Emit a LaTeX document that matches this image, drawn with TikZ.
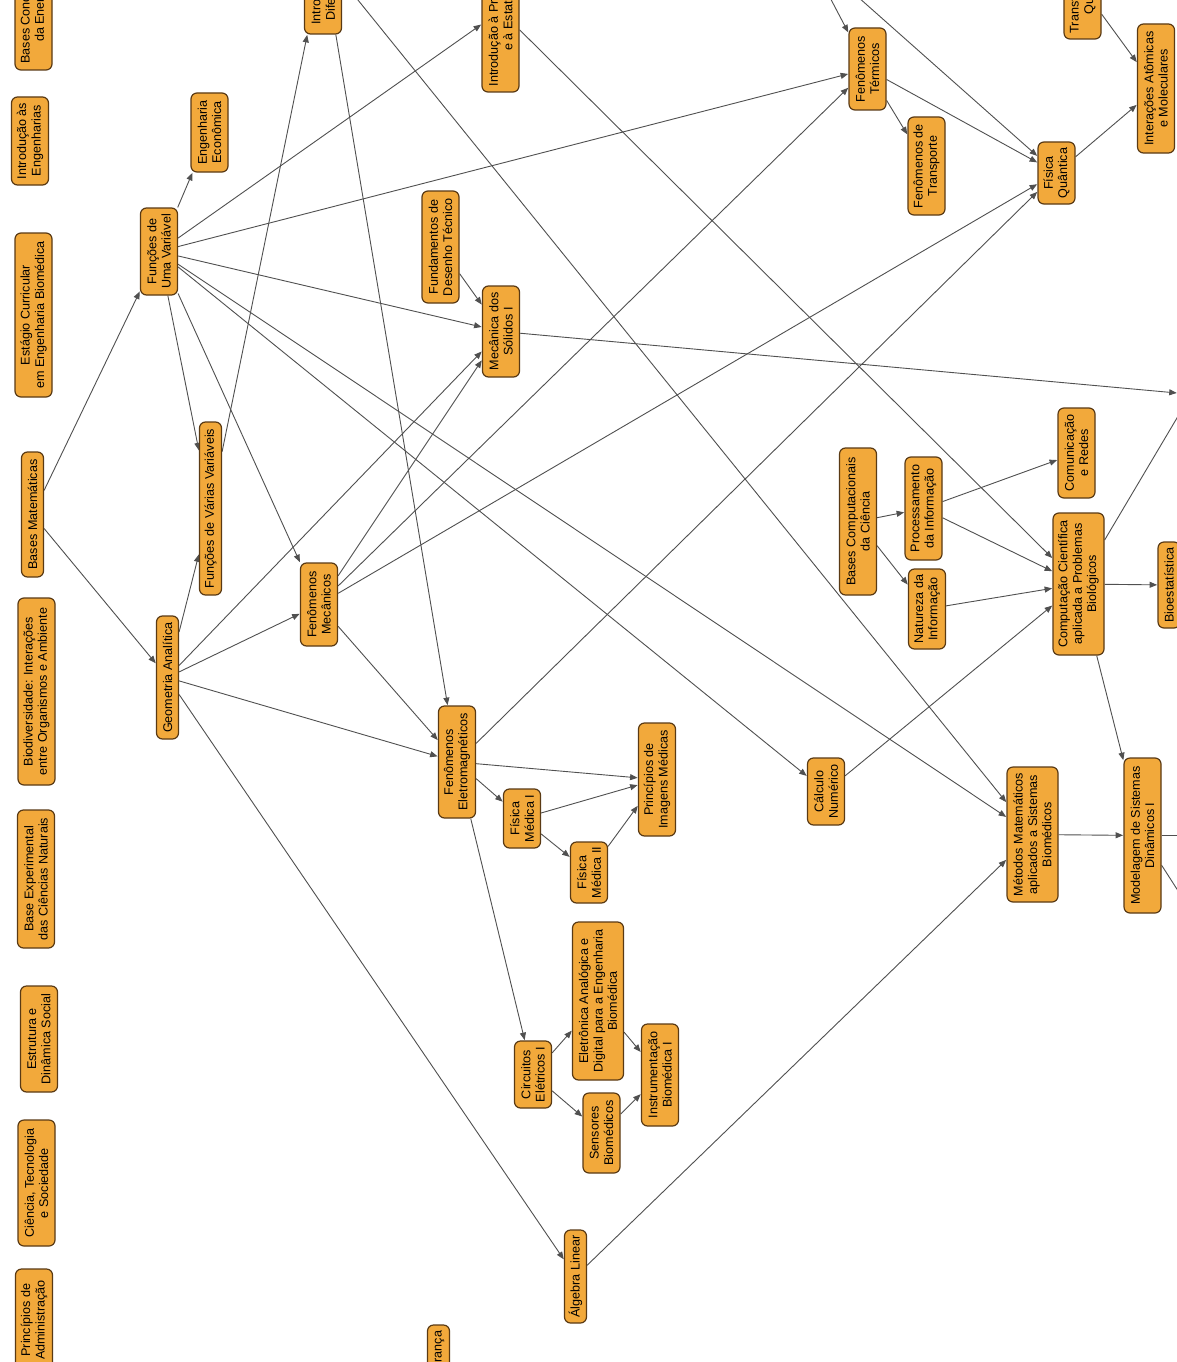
\documentclass[tikz,border=0pt]{standalone}
\usepackage{fontspec}
\setmainfont{Liberation Sans}
\usetikzlibrary{arrows.meta}
\definecolor{boxfill}{HTML}{F2A93B}
\definecolor{boxdraw}{HTML}{5A3A14}
\definecolor{edgec}{HTML}{505050}
\pgfdeclarelayer{bg}
\pgfsetlayers{bg,main}
\begin{document}
\begin{tikzpicture}[x=1pt,y=-1pt,
 course/.style={draw=boxdraw, line width=1.2pt, fill=boxfill, rounded corners=6pt, rotate=90, align=center, inner sep=2pt, font=\fontsize{12.6}{14.4}\selectfont, text=black},
 one/.style={course, minimum height=22pt},
 two/.style={course, minimum height=37pt},
 three/.style={course, minimum height=51pt},
 arr/.style={draw=edgec, line width=0.9pt, -{Triangle[length=7.5pt,width=6pt]}, shorten >=0.3pt}
]
\useasboundingbox (0,0) rectangle (1177,1362);
\clip (0,0) rectangle (1177,1362);
% left column
\node[two, minimum width=117pt] (BCE) at (33.5,11.5) {Bases Conceituais\\da Energia};
\node[two, minimum width=88pt] (IntroEng) at (30,141) {Introdução às\\Engenharias};
\node[two, minimum width=164pt] (Estagio) at (33.5,315) {Estágio Curricular\\em Engenharia Biomédica};
\node[one, minimum width=125pt] (BasesMat) at (32.5,514.5) {Bases Matemáticas};
\node[two, minimum width=187pt] (Biodiv) at (36.5,691.5) {Biodiversidade: Interações\\entre Organismos e Ambiente};
\node[two, minimum width=138pt] (BaseExp) at (36,879) {Base Experimental\\das Ciências Naturais};
\node[two, minimum width=106pt] (EstDin) at (39,1039) {Estrutura e\\Dinâmica Social};
\node[two, minimum width=126pt] (CTS) at (36.5,1183) {Ciência, Tecnologia\\e Sociedade};
\node[two, minimum width=102pt] (PrincAdm) at (34,1320) {Princípios de\\Administração};
% maths
\node[two, minimum width=79pt] (EngEcon) at (209.5,132.5) {Engenharia\\Econômica};
\node[two, minimum width=87pt] (FUV) at (159,251.5) {Funções de\\Uma Variável};
\node[one, minimum width=173pt] (FVV) at (210.5,508.5) {Funções de Várias Variáveis};
\node[one, minimum width=123pt] (GeoAn) at (167.5,677.5) {Geometria Analítica};
\node[two, minimum width=83pt] (FenMec) at (319,604.5) {Fenômenos\\Mecânicos};
\node[two, minimum width=154pt] (IntroEDO) at (323,-43) {Introdução às Equações\\Diferenciais Ordinárias};
\node[two, minimum width=162pt] (IntroProb) at (500.5,11) {Introdução à Probabilidade\\e à Estatística};
\node[two, minimum width=112pt] (FundDes) at (440.5,247) {Fundamentos de\\Desenho Técnico};
\node[two, minimum width=91pt] (MecSol) at (501,331.5) {Mecânica dos\\Sólidos I};
% physics top right
\node[two, minimum width=82pt] (FenTerm) at (867.5,69) {Fenômenos\\Térmicos};
\node[two, minimum width=98pt] (FenTransp) at (926.5,166) {Fenômenos de\\Transporte};
\node[two, minimum width=62pt] (FisQuant) at (1056.5,173) {Física\\Quântica};
\node[two, minimum width=129pt] (IntAtom) at (1156,88.5) {Interações Atômicas\\e Moleculares};
\node[two, minimum width=102pt] (TransfQ) at (1082.5,-12) {Transformações\\Químicas};
% computing
\node[two, minimum width=147pt] (BasesComp) at (858,521.5) {Bases Computacionais\\da Ciência};
\node[two, minimum width=103pt] (ProcInfo) at (923.5,508.5) {Processamento\\da Informação};
\node[two, minimum width=80pt] (NatInfo) at (927,609) {Natureza da\\Informação};
\node[two, minimum width=90pt] (ComRedes) at (1076.5,453) {Comunicação\\e Redes};
\node[three, minimum width=142pt] (CompCient) at (1078.5,584) {Computação Científica\\aplicada a Problemas\\Biológicos};
\node[one, minimum width=86pt] (Bioest) at (1169,585) {Bioestatística};
\node[two, minimum width=67pt] (CalcNum) at (826,791.5) {Cálculo\\Numérico};
\node[three, minimum width=135pt] (MetMat) at (1032.5,834.5) {Métodos Matemáticos\\aplicados a Sistemas\\Biomédicos};
\node[two, minimum width=155pt] (ModSis) at (1142.5,835.5) {Modelagem de Sistemas\\Dinâmicos I};
% electromagnetism branch
\node[two, minimum width=112pt] (FenEletro) at (457,762) {Fenômenos\\Eletromagnéticos};
\node[two, minimum width=59pt] (FisMed1) at (522,818.5) {Física\\Médica I};
\node[two, minimum width=61pt] (FisMed2) at (589,872.5) {Física\\Médica II};
\node[two, minimum width=113pt] (PrincImg) at (657,779.5) {Princípios de\\Imagens Médicas};
\node[two, minimum width=67pt] (CircEl) at (533,1074.5) {Circuitos\\Elétricos I};
\node[three, minimum width=158pt] (Eletron) at (598,1001) {Eletrônica Analógica e\\Digital para a Engenharia\\Biomédica};
\node[two, minimum width=80pt] (Sensores) at (601.5,1133) {Sensores\\Biomédicos};
\node[two, minimum width=102pt] (Instrum) at (660,1075) {Instrumentação\\Biomédica I};
\node[one, minimum width=93pt] (AlgLin) at (575.5,1276.5) {Álgebra Linear};
\node[one, minimum width=95pt] (Biosseg) at (438.5,1372.5) {Biossegurança};
% free ends beyond the picture
\coordinate (offTop) at (805,-50);
\coordinate (rMS) at (1177,393);
\coordinate (rCC) at (1190,396);
\coordinate (rMH) at (1200,835.5);
\coordinate (rMD) at (1200,925);
\begin{pgfonlayer}{bg}
\fill[white] (0,0) rectangle (1177,1362);
\draw[arr] (BasesMat) -- (FUV);
\draw[arr] (BasesMat) -- (GeoAn);
\draw[arr] (FUV) -- (EngEcon);
\draw[arr] (FUV) -- (IntroProb);
\draw[arr] (FUV) -- (FenTerm);
\draw[arr] (FUV) -- (MecSol);
\draw[arr] (FUV) -- (MetMat);
\draw[arr] (FUV) -- (CalcNum);
\draw[arr] (FUV) -- (FVV);
\draw[arr] (FUV) -- (FenMec);
\draw[arr] (GeoAn) -- (FVV);
\draw[arr] (GeoAn) -- (FenMec);
\draw[arr] (GeoAn) -- (MecSol);
\draw[arr] (GeoAn) -- (FenEletro);
\draw[arr] (GeoAn) -- (AlgLin);
\draw[arr] (FVV) -- (IntroEDO);
\draw[arr] (IntroEDO) -- (FenEletro);
\draw[arr] (IntroEDO) -- (MetMat);
\draw[arr] (FenMec) -- (MecSol);
\draw[arr] (FenMec) -- (FenTerm);
\draw[arr] (FenMec) -- (FisQuant);
\draw[arr] (FenMec) -- (FenEletro);
\draw[arr] (FundDes) -- (MecSol);
\draw[arr] (MecSol) -- (rMS);
\draw[arr] (IntroProb) -- (CompCient);
\draw[arr] (offTop) -- (FenTerm);
\draw[arr] (offTop) -- (FisQuant);
\draw[arr] (FenTerm) -- (FenTransp);
\draw[arr] (FenTerm) -- (FisQuant);
\draw[arr] (TransfQ) -- (IntAtom);
\draw[arr] (FisQuant) -- (IntAtom);
\draw[arr] (FenEletro) -- (FisQuant);
\draw[arr] (FenEletro) -- (PrincImg);
\draw[arr] (FenEletro) -- (FisMed1);
\draw[arr] (FenEletro) -- (CircEl);
\draw[arr] (FisMed1) -- (PrincImg);
\draw[arr] (FisMed1) -- (FisMed2);
\draw[arr] (FisMed2) -- (PrincImg);
\draw[arr] (CircEl) -- (Eletron);
\draw[arr] (CircEl) -- (Sensores);
\draw[arr] (Eletron) -- (Instrum);
\draw[arr] (Sensores) -- (Instrum);
\draw[arr] (AlgLin) -- (MetMat);
\draw[arr] (BasesComp) -- (ProcInfo);
\draw[arr] (BasesComp) -- (NatInfo);
\draw[arr] (ProcInfo) -- (ComRedes);
\draw[arr] (ProcInfo) -- (CompCient);
\draw[arr] (NatInfo) -- (CompCient);
\draw[arr] (CalcNum) -- (CompCient);
\draw[arr] (CompCient) -- (Bioest);
\draw[arr] (CompCient) -- (ModSis);
\draw[arr] (CompCient) -- (rCC);
\draw[arr] (MetMat) -- (ModSis);
\draw[arr] (ModSis) -- (rMH);
\draw[arr] (ModSis) -- (rMD);
\end{pgfonlayer}
\end{tikzpicture}
\end{document}
